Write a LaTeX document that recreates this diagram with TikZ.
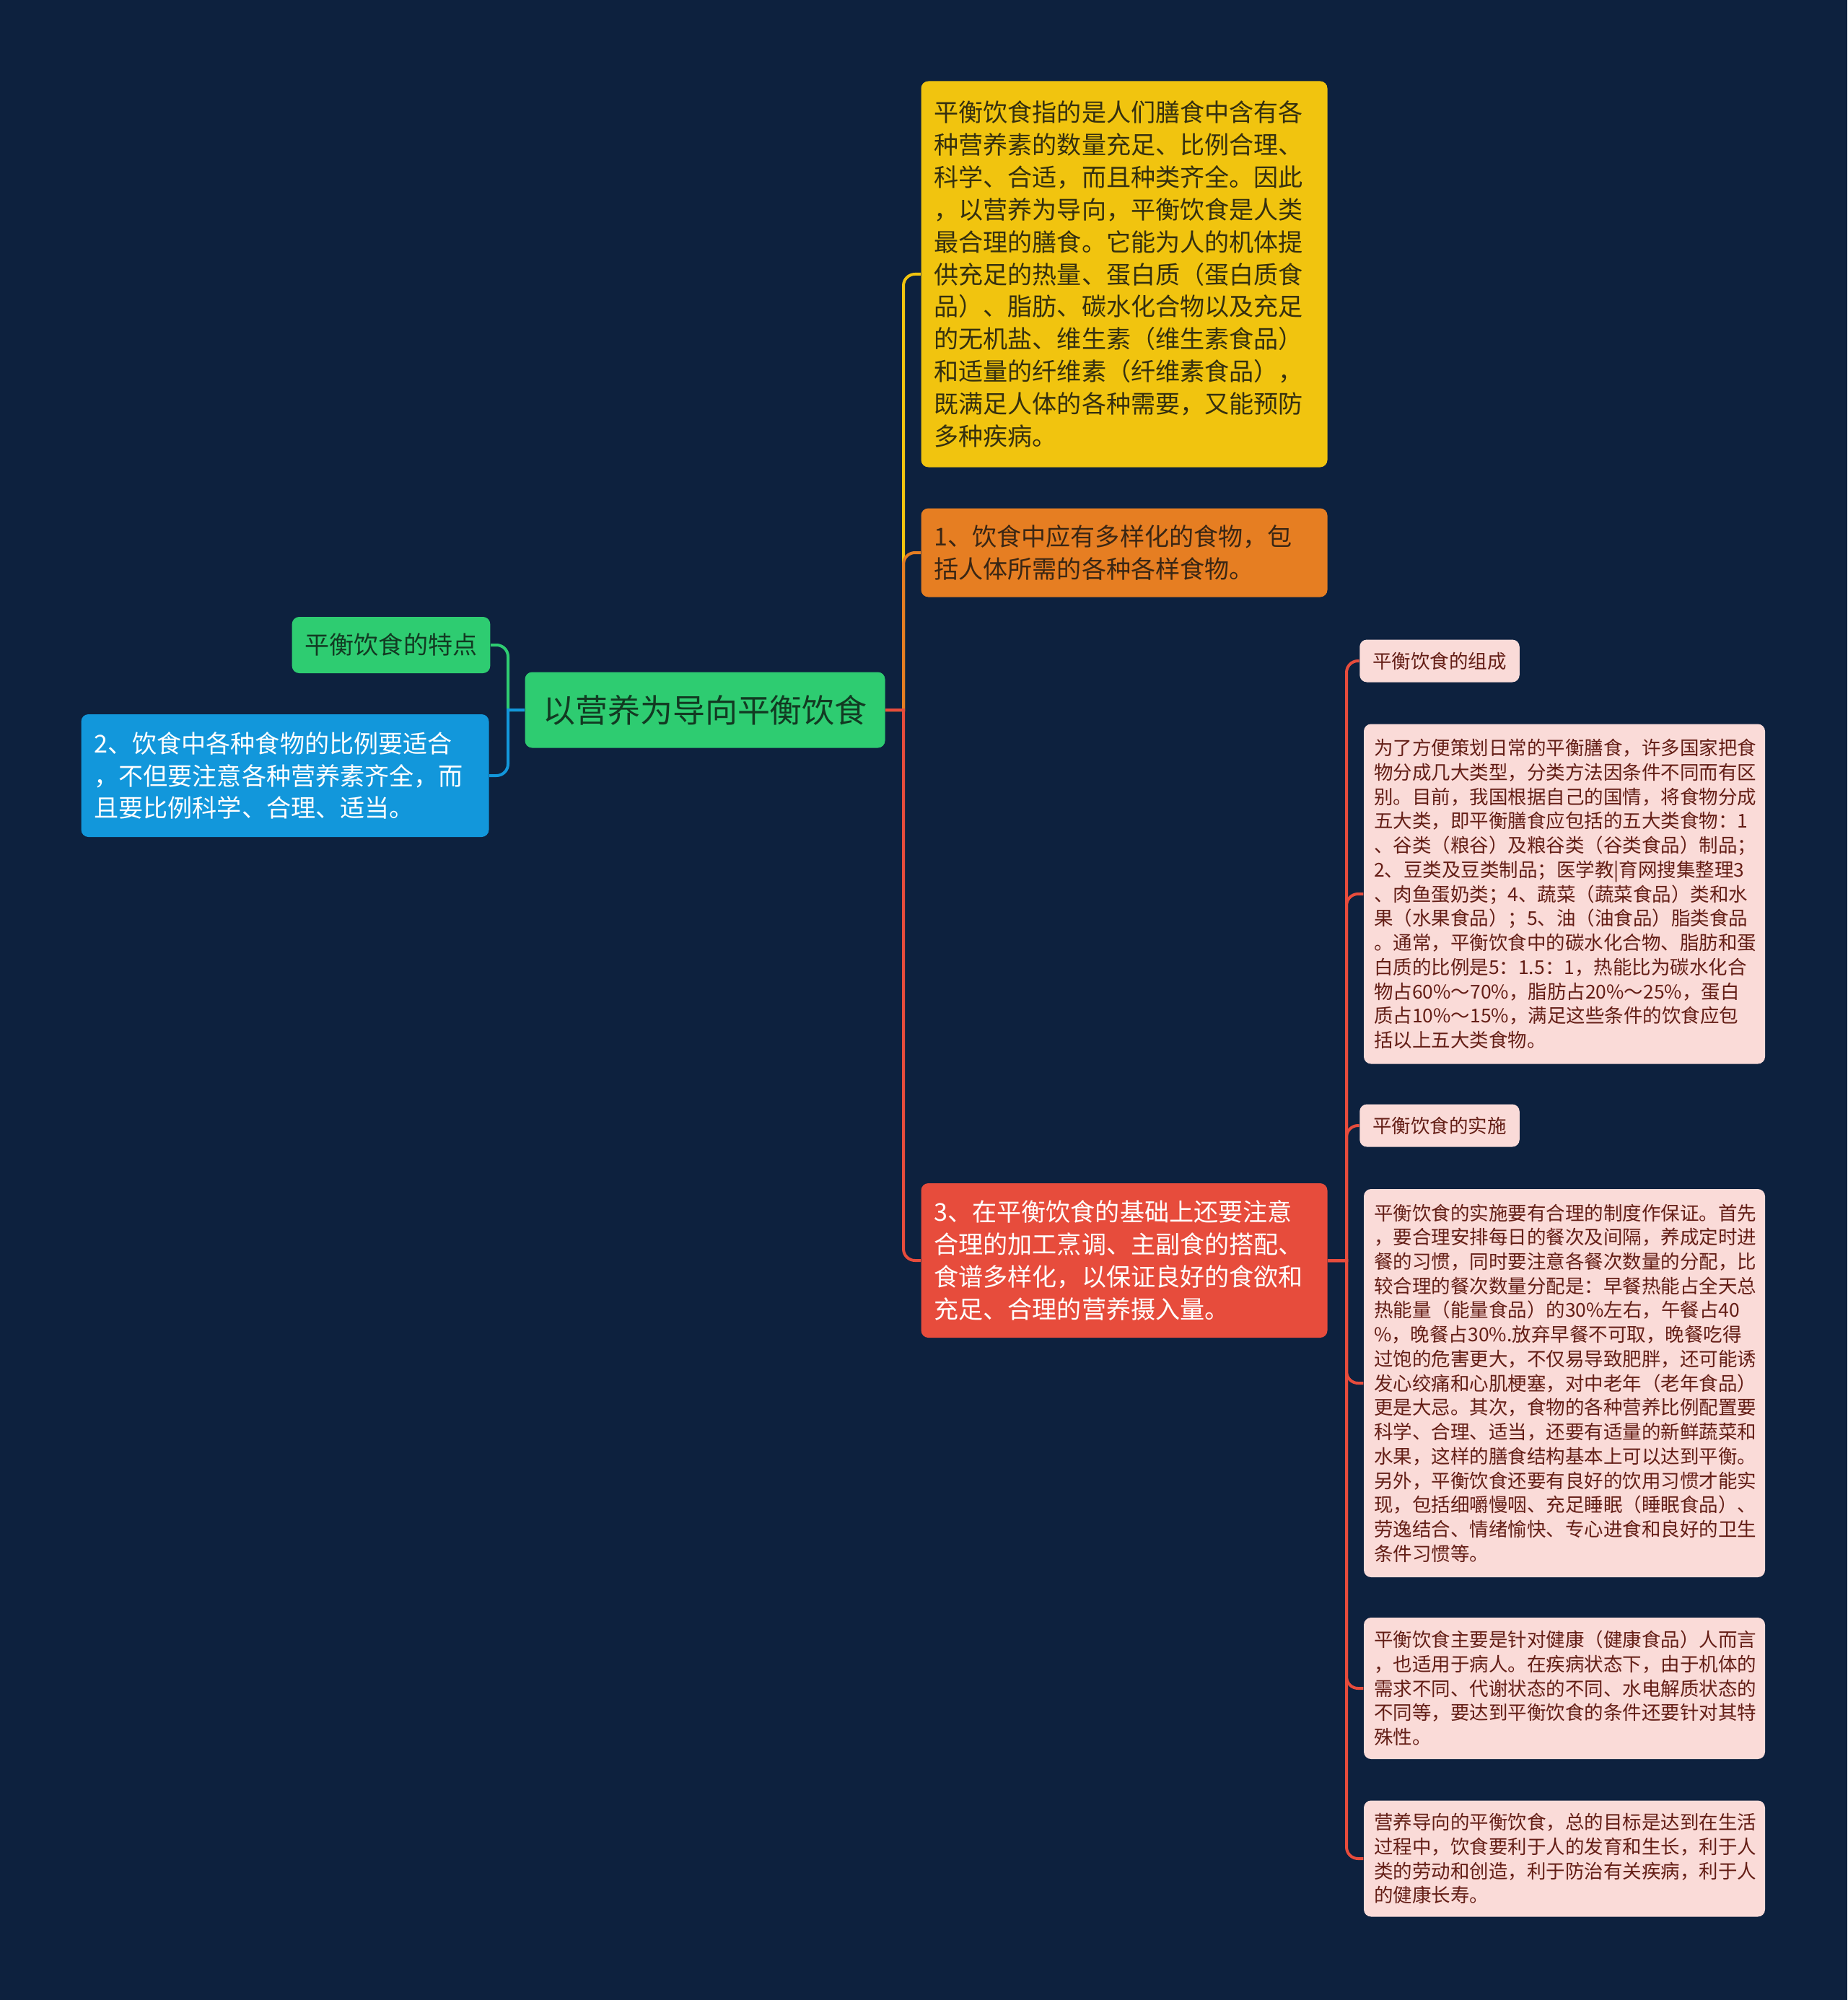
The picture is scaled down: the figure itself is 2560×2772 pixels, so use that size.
\documentclass[tikz,border=0pt]{standalone}
\usepackage{fontspec}
\setmainfont{Noto Sans CJK SC}
\usetikzlibrary{positioning}

\definecolor{bgnavy}{HTML}{0D213E}
\definecolor{ccgreen}{HTML}{2ECC71}
\definecolor{ccblue}{HTML}{1297DB}
\definecolor{ccyellow}{HTML}{F1C40F}
\definecolor{ccorange}{HTML}{E67E22}
\definecolor{ccred}{HTML}{E74C3C}
\definecolor{ccpink}{HTML}{FADBD8}
\definecolor{roottxt}{HTML}{123A22}
\definecolor{yeltxt}{HTML}{35300F}
\definecolor{orgtxt}{HTML}{3A2614}
\definecolor{pinktxt}{HTML}{641E16}

\newcommand{\rootsz}{\fontsize{12.8pt}{15pt}\selectfont}
\newcommand{\branchsz}{\fontsize{9.7pt}{12.75pt}\selectfont}
\newcommand{\leafsz}{\fontsize{7.54pt}{9.6pt}\selectfont}

\begin{document}
\begin{tikzpicture}[
x=0.1mm, y=-0.1mm,
box/.style={rounded corners=1mm, inner xsep=1.8mm, inner ysep=0pt, align=left},
topic/.style={box, fill=ccgreen, text=roottxt, font=\rootsz, align=center, minimum width=49.9mm, minimum height=10.5mm},
branch/.style={box, font=\branchsz},
leaf/.style={box, fill=ccpink, text=pinktxt, font=\leafsz, inner xsep=1.4mm, text width=52.8mm},
leaftitle/.style={box, fill=ccpink, text=pinktxt, font=\leafsz, align=center, minimum width=21.1mm, minimum height=5.9mm},
link/.style={line width=0.4mm},
elbow/.style={rounded corners=1.6mm}
]
\useasboundingbox (0,0) rectangle (2560,2772);
\fill[bgnavy] (0,0) rectangle (2560,2772);

\node[topic] (root) at (977,984) {以营养为导向平衡饮食};

\node[branch, fill=ccgreen, text=roottxt, align=center, minimum width=27.2mm, minimum height=7.8mm] (tedian) at (542,894) {平衡饮食的特点};
\node[branch, fill=ccblue, text=white, text width=52.9mm, minimum height=17mm] (bili) at (395,1075)
{2、饮食中各种食物的比例要适合\\，不但要注意各种营养素齐全，而\\且要比例科学、合理、适当。};

\node[branch, fill=ccyellow, text=yeltxt, text width=52.7mm, minimum height=53.5mm] (dingyi) at (1558,380)
{平衡饮食指的是人们膳食中含有各\\种营养素的数量充足、比例合理、\\科学、合适，而且种类齐全。因此\\，以营养为导向，平衡饮食是人类\\最合理的膳食。它能为人的机体提\\供充足的热量、蛋白质（蛋白质食\\品）、脂肪、碳水化合物以及充足\\的无机盐、维生素（维生素食品）\\和适量的纤维素（纤维素食品），\\既满足人体的各种需要，又能预防\\多种疾病。};
\node[branch, fill=ccorange, text=orgtxt, text width=52.7mm, minimum height=12.3mm] (duoyang) at (1558,766)
{1、饮食中应有多样化的食物，包\\括人体所需的各种各样食物。};
\node[branch, fill=ccred, text=white, text width=52.7mm, minimum height=21.4mm] (pengtiao) at (1558,1747)
{3、在平衡饮食的基础上还要注意\\合理的加工烹调、主副食的搭配、\\食谱多样化，以保证良好的食欲和\\充足、合理的营养摄入量。};

\node[leaftitle] (zucheng) at (1995,916) {平衡饮食的组成};
\node[leaf, minimum height=47.1mm] (wulei) at (2168,1239)
{为了方便策划日常的平衡膳食，许多国家把食\\物分成几大类型，分类方法因条件不同而有区\\别。目前，我国根据自己的国情，将食物分成\\五大类，即平衡膳食应包括的五大类食物：1\\、谷类（粮谷）及粮谷类（谷类食品）制品；\\2、豆类及豆类制品；医学教|育网搜集整理3\\、肉鱼蛋奶类；4、蔬菜（蔬菜食品）类和水\\果（水果食品）；5、油（油食品）脂类食品\\。通常，平衡饮食中的碳水化合物、脂肪和蛋\\白质的比例是5：1.5：1，热能比为碳水化合\\物占60\%～70\%，脂肪占20\%～25\%，蛋白\\质占10\%～15\%，满足这些条件的饮食应包\\括以上五大类食物。};
\node[leaftitle] (shishi) at (1995,1560) {平衡饮食的实施};
\node[leaf, minimum height=53.8mm] (zhidu) at (2168,1917)
{平衡饮食的实施要有合理的制度作保证。首先\\，要合理安排每日的餐次及间隔，养成定时进\\餐的习惯，同时要注意各餐次数量的分配，比\\较合理的餐次数量分配是：早餐热能占全天总\\热能量（能量食品）的30\%左右，午餐占40\\\%，晚餐占30\%.放弃早餐不可取，晚餐吃得\\过饱的危害更大，不仅易导致肥胖，还可能诱\\发心绞痛和心肌梗塞，对中老年（老年食品）\\更是大忌。其次，食物的各种营养比例配置要\\科学、合理、适当，还要有适量的新鲜蔬菜和\\水果，这样的膳食结构基本上可以达到平衡。\\另外，平衡饮食还要有良好的饮用习惯才能实\\现，包括细嚼慢咽、充足睡眠（睡眠食品）、\\劳逸结合、情绪愉快、专心进食和良好的卫生\\条件习惯等。};
\node[leaf, minimum height=19.6mm] (bingren) at (2168,2340)
{平衡饮食主要是针对健康（健康食品）人而言\\，也适用于病人。在疾病状态下，由于机体的\\需求不同、代谢状态的不同、水电解质状态的\\不同等，要达到平衡饮食的条件还要针对其特\\殊性。};
\node[leaf, minimum height=16.1mm] (mubiao) at (2168,2576)
{营养导向的平衡饮食，总的目标是达到在生活\\过程中，饮食要利于人的发育和生长，利于人\\类的劳动和创造，利于防治有关疾病，利于人\\的健康长寿。};

\coordinate (lbus) at (704,984);
\coordinate (rbus) at (1252,984);
\coordinate (pbus) at (1866,1747);

\draw[link, ccgreen] (root.west) -- (lbus) [elbow] |- (tedian.east);
\draw[link, ccblue] (root.west) -- (lbus) [elbow] |- (bili.east);
\draw[link, ccyellow] (root.east) -- (rbus) [elbow] |- (dingyi.west);
\draw[link, ccorange] (root.east) -- (rbus) [elbow] |- (duoyang.west);
\draw[link, ccred] (root.east) -- (rbus) [elbow] |- (pengtiao.west);
\foreach \leafname in {zucheng, wulei, shishi, zhidu, bingren, mubiao}
  \draw[link, ccred] (pengtiao.east) -- (pbus) [elbow] |- (\leafname.west);
\end{tikzpicture}
\end{document}
